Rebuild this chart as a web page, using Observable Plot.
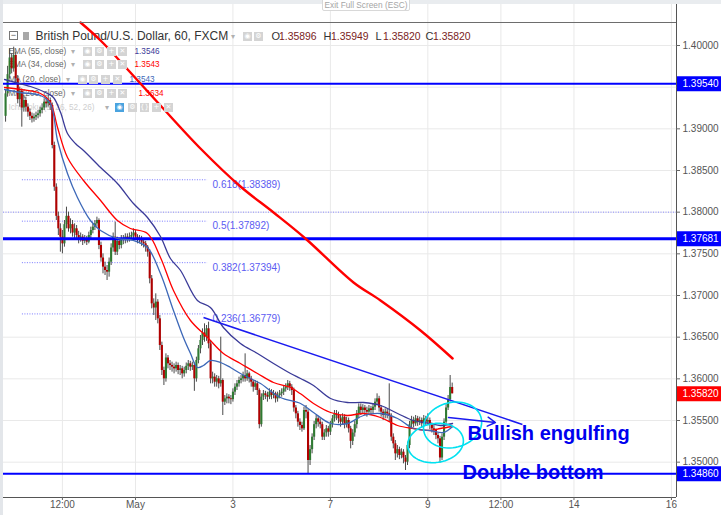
<!DOCTYPE html>
<html><head><meta charset="utf-8">
<script src="https://cdn.jsdelivr.net/npm/d3@7"></script>
<script src="https://cdn.jsdelivr.net/npm/@observablehq/plot@0.6"></script>
<style>
body{margin:0;background:#fff;}
#wrap{position:relative;width:721px;height:515px;overflow:hidden;font-family:"Liberation Sans",Arial,sans-serif;}
.ov{position:absolute;}
.ico{position:absolute;width:9px;height:9px;background:#d4d4d4;color:#fff;font-size:7px;line-height:9px;text-align:center;font-family:"DejaVu Sans",sans-serif;}
.dd{position:absolute;color:#b0b0b0;font-size:8px;line-height:9px;}
</style></head><body><div id="wrap"></div>
<script>
// ---------------- DATA ----------------
// hourly candles (trading hours, 0 = 1 May 00:00)
const firstT = -64;
const firstOpen = 1.3915;
const closes = [
1.3942,1.3965,1.3985,1.3972,1.3988,1.3960,1.3935,1.3945,1.3925,1.3934,
1.3926,1.3920,1.3915,1.3912,1.3914,1.3916,1.3918,1.3922,1.3925,1.3932,
1.3930,1.3934,1.3928,1.3880,1.3830,1.3795,1.3780,1.3770,1.3762,1.3785,
1.3795,1.3780,1.3785,1.3775,1.3780,1.3772,1.3768,1.3770,1.3765,1.3768,
1.3764,1.3772,1.3778,1.3782,1.3786,1.3790,1.3760,1.3745,1.3734,1.3730,
1.3728,1.3740,1.3757,1.3770,1.3752,1.3765,1.3760,1.3768,1.3766,1.3770,
1.3768,1.3770,1.3772,1.3775,1.3770,1.3766,1.3768,1.3764,1.3762,1.3758,
1.3752,1.3720,1.3690,1.3685,1.3692,1.3672,1.3640,1.3610,1.3600,1.3625,
1.3618,1.3616,1.3614,1.3612,1.3616,1.3610,1.3612,1.3606,1.3610,1.3615,
1.3618,1.3614,1.3616,1.3600,1.3622,1.3636,1.3646,1.3655,1.3650,1.3660,
1.3642,1.3600,1.3602,1.3596,1.3600,1.3594,1.3598,1.3572,1.3576,1.3578,
1.3576,1.3575,1.3584,1.3590,1.3594,1.3598,1.3600,1.3604,1.3600,1.3606,
1.3600,1.3596,1.3590,1.3594,1.3586,1.3545,1.3578,1.3582,1.3580,1.3578,
1.3584,1.3580,1.3582,1.3576,1.3580,1.3582,1.3584,1.3588,1.3590,1.3594,
1.3590,1.3586,1.3565,1.3558,1.3548,1.3544,1.3540,1.3562,1.3560,1.3502,
1.3515,1.3530,1.3545,1.3552,1.3548,1.3545,1.3530,1.3535,1.3540,1.3536,
1.3545,1.3552,1.3558,1.3556,1.3552,1.3548,1.3554,1.3545,1.3550,1.3540,
1.3525,1.3535,1.3545,1.3558,1.3566,1.3562,1.3565,1.3562,1.3560,1.3564,
1.3562,1.3566,1.3572,1.3576,1.3565,1.3560,1.3556,1.3560,1.3558,1.3555,
1.3530,1.3522,1.3510,1.3515,1.3508,1.3512,1.3505,1.3500,1.3520,1.3545,
1.3550,1.3546,1.3552,1.3548,1.3550,1.3546,1.3552,1.3548,1.3550,1.3544,
1.3540,1.3538,1.3532,1.3528,1.3505,1.3530,1.3548,1.3565,1.3575,1.35896,
1.35820];
const highs = [
1.3946,1.3975,1.3996,1.3990,1.3998,1.3992,1.3964,1.3950,1.3948,1.3940,
1.3938,1.3930,1.3924,1.3919,1.3918,1.3920,1.3922,1.3926,1.3930,1.3936,
1.3938,1.3940,1.3937,1.3931,1.3884,1.3834,1.3800,1.3786,1.3778,1.3790,
1.3806,1.3800,1.3792,1.3790,1.3786,1.3784,1.3777,1.3775,1.3773,1.3772,
1.3771,1.3776,1.3782,1.3786,1.3790,1.3794,1.3792,1.3764,1.3750,1.3740,
1.3736,1.3745,1.3762,1.3775,1.3788,1.3770,1.3768,1.3772,1.3772,1.3774,
1.3774,1.3775,1.3776,1.3780,1.3778,1.3773,1.3772,1.3771,1.3768,1.3765,
1.3760,1.3755,1.3724,1.3696,1.3702,1.3695,1.3676,1.3644,1.3614,1.3630,
1.3628,1.3622,1.3620,1.3618,1.3620,1.3619,1.3616,1.3615,1.3614,1.3619,
1.3622,1.3621,1.3620,1.3619,1.3626,1.3640,1.3652,1.3660,1.3666,1.3664,
1.3668,1.3646,1.3608,1.3606,1.3604,1.3603,1.3650,1.3600,1.3580,1.3582,
1.3581,1.3580,1.3588,1.3594,1.3598,1.3602,1.3604,1.3608,1.3630,1.3610,
1.3608,1.3603,1.3598,1.3598,1.3597,1.3588,1.3582,1.3586,1.3585,1.3584,
1.3588,1.3587,1.3586,1.3584,1.3584,1.3586,1.3588,1.3592,1.3594,1.3598,
1.3597,1.3593,1.3589,1.3568,1.3561,1.3552,1.3548,1.3566,1.3568,1.3563,
1.3520,1.3534,1.3549,1.3556,1.3555,1.3552,1.3548,1.3539,1.3544,1.3543,
1.3549,1.3556,1.3562,1.3562,1.3560,1.3556,1.3558,1.3557,1.3554,1.3553,
1.3543,1.3539,1.3549,1.3562,1.3570,1.3570,1.3569,1.3568,1.3566,1.3568,
1.3567,1.3570,1.3576,1.3582,1.3579,1.3568,1.3563,1.3564,1.3564,1.3594,
1.3558,1.3534,1.3526,1.3520,1.3518,1.3516,1.3515,1.3508,1.3524,1.3549,
1.3555,1.3554,1.3556,1.3555,1.3554,1.3553,1.3556,1.3555,1.3558,1.3553,
1.3547,1.3544,1.3540,1.3535,1.3531,1.3534,1.3552,1.3569,1.3580,1.3604,
1.35949];
const lows = [
1.3908,1.3938,1.3960,1.3966,1.3968,1.3955,1.3930,1.3926,1.3902,1.3920,
1.3920,1.3914,1.3910,1.3907,1.3908,1.3910,1.3912,1.3914,1.3918,1.3922,
1.3925,1.3926,1.3922,1.3876,1.3825,1.3790,1.3772,1.3752,1.3750,1.3758,
1.3780,1.3776,1.3774,1.3770,1.3768,1.3766,1.3762,1.3764,1.3760,1.3762,
1.3760,1.3762,1.3768,1.3774,1.3778,1.3782,1.3755,1.3740,1.3726,1.3724,
1.3718,1.3722,1.3736,1.3752,1.3748,1.3748,1.3755,1.3756,1.3761,1.3762,
1.3763,1.3764,1.3766,1.3768,1.3766,1.3762,1.3762,1.3759,1.3757,1.3752,
1.3746,1.3714,1.3684,1.3676,1.3670,1.3666,1.3634,1.3604,1.3592,1.3596,
1.3612,1.3610,1.3608,1.3606,1.3608,1.3605,1.3604,1.3600,1.3602,1.3606,
1.3610,1.3609,1.3610,1.3585,1.3596,1.3618,1.3630,1.3640,1.3644,1.3645,
1.3636,1.3594,1.3594,1.3590,1.3590,1.3588,1.3590,1.3556,1.3568,1.3570,
1.3570,1.3569,1.3572,1.3580,1.3586,1.3590,1.3594,1.3596,1.3596,1.3597,
1.3595,1.3590,1.3584,1.3586,1.3580,1.3540,1.3542,1.3574,1.3575,1.3572,
1.3575,1.3575,1.3576,1.3571,1.3572,1.3576,1.3578,1.3580,1.3584,1.3586,
1.3585,1.3580,1.3560,1.3552,1.3542,1.3538,1.3536,1.3538,1.3552,1.3486,
1.3496,1.3510,1.3526,1.3540,1.3542,1.3540,1.3526,1.3526,1.3530,1.3530,
1.3532,1.3541,1.3548,1.3550,1.3546,1.3542,1.3544,1.3540,1.3541,1.3535,
1.3516,1.3520,1.3530,1.3540,1.3552,1.3556,1.3558,1.3556,1.3554,1.3556,
1.3556,1.3558,1.3562,1.3568,1.3560,1.3554,1.3550,1.3552,1.3552,1.3548,
1.3525,1.3516,1.3502,1.3505,1.3503,1.3504,1.3498,1.3490,1.3496,1.3516,
1.3540,1.3541,1.3543,1.3543,1.3544,1.3541,1.3543,1.3543,1.3544,1.3539,
1.3535,1.3532,1.3527,1.3522,1.3499,1.3502,1.3526,1.3545,1.3562,1.3572,
1.35820];

// moving averages: [hour, price]
const ema55 = [[-64.5,1.39592],[-59.1,1.39556],[-51.7,1.39508],[-44.3,1.39436],[-40.4,1.39376],[-36.9,1.39196],[-33.5,1.38944],[-29.6,1.38824],[-25.6,1.3874],[-17.2,1.38536],[-8.9,1.38344],[-1.0,1.38104],[5.9,1.37936],[12.3,1.37708],[17.2,1.37444],[22.2,1.373],[30.5,1.3694],[36.9,1.36856],[43.3,1.36616],[51.7,1.36424],[60.1,1.36304],[68.0,1.36184],[76.4,1.36064],[81.3,1.36004],[87.7,1.3592],[96.1,1.35764],[104.4,1.35716],[112.3,1.35716],[120.7,1.3568],[129.1,1.35584],[136.9,1.355],[145.3,1.35464],[150.2,1.3544],[156.2,1.35464]];
const ema34 = [[-64.5,1.39496],[-56.7,1.39472],[-46.8,1.39424],[-41.9,1.39316],[-38.4,1.39016],[-33.5,1.38656],[-25.6,1.3838],[-17.2,1.3814],[-8.9,1.379],[-2.5,1.37804],[5.9,1.37744],[12.3,1.37456],[18.7,1.3706],[27.1,1.367],[35.5,1.36496],[43.3,1.36304],[51.7,1.36184],[60.1,1.36064],[68.0,1.35956],[76.4,1.35896],[81.3,1.3582],[87.7,1.35704],[96.1,1.35596],[104.4,1.3556],[112.3,1.35584],[120.7,1.35536],[129.1,1.3544],[136.9,1.35404],[145.3,1.3538],[150.2,1.35404],[156.2,1.35428]];
const ma20 = [[-64.5,1.39472],[-56.7,1.39436],[-46.8,1.394],[-41.9,1.39304],[-38.4,1.3886],[-33.5,1.38464],[-28.6,1.38176],[-22.2,1.379],[-17.2,1.3778],[-8.9,1.37684],[-1.0,1.3766],[5.9,1.37576],[12.3,1.37264],[18.7,1.3682],[23.6,1.36496],[27.1,1.36304],[30.5,1.36136],[33.5,1.3616],[36.9,1.3622],[41.9,1.36196],[46.8,1.36136],[51.7,1.36064],[56.7,1.36004],[61.6,1.35944],[71.4,1.35776],[81.3,1.35704],[87.7,1.35596],[96.1,1.35464],[104.4,1.35464],[112.3,1.3556],[120.7,1.35584],[129.1,1.35524],[136.9,1.35404],[145.3,1.3538],[151.7,1.35356],[156.2,1.35428]];
const ma200 = [[-27.1,1.40276],[-17.2,1.4006],[-2.5,1.39676],[12.3,1.3928],[32.0,1.38764],[51.7,1.38308],[68.0,1.37996],[83.7,1.37684],[107.4,1.37156],[120.7,1.3694],[140.4,1.3658],[156.2,1.36244]];

// legend
const legendNames = ["EMA (55, close)","EMA (34, close)","MA (20, close)","MA (200, close)"];
const legendValues = ["1.3546","1.3543","1.3543","1.3634"];
const title = "British Pound/U.S. Dollar, 60, FXCM";
const ohlcLetters = ["O","H","L","C"];
const ohlcValues = ["1.35896","1.35949","1.35820","1.35820"];

// horizontal support/resistance levels, fib levels
const hLevels = [1.3954, 1.37681, 1.3486];
const fibRatios = ["0.618","0.5","0.382","0.236"];
const fibPrices = [1.38389, 1.37892, 1.37394, 1.36779];
const fibSpan = [-55.7, 35.5];
const roundLevel = 1.38;

// trendline, arrow, ellipses (hour, price)
const trend = [[33.5,1.36736],[190.6,1.35452]];
const arrowSeg = [[154.2,1.35536],[177.3,1.35476]];
const ellipseCenters = [[156.2,1.35446],[147.8,1.3523]];
const ellipseRadii = [[14.5,0.0027],[13.8,0.00234]];
const ellipseTilt = [-14,-8];
const notes = ["Bullish engulfing","Double bottom"];
const notePos = [[163.5,1.3534],[161.1,1.3488]];

// axes
const xTickT = [-36,0,48,96,144,180,216,264];
const xTickLabels = ["12:00","May","3","7","9","12:00","14","16"];
const yTicks = [1.35,1.355,1.36,1.365,1.37,1.375,1.38,1.385,1.39,1.395,1.40];

// ---------------- LAYOUT ----------------
const W = 721, H = 515, ML = 3, MR = 45, MT = 4, MB = 18;
const xDom = [-65.02, 266.5], yDom = [1.34576, 1.40492];
const kx = (W-ML-MR)/(xDom[1]-xDom[0]);
const ky = (H-MT-MB)/(yDom[1]-yDom[0]);
const FONT = '"Liberation Sans", Arial, sans-serif';
const tFar = xDom[1] + MR/kx;

const candles = closes.map((c,i)=>({t:firstT+i, o: i ? closes[i-1] : firstOpen, h: highs[i], l: lows[i], c}));
const maSeries = [
  {pts: ema55, color:"#3a3a98"},
  {pts: ema34, color:"#ff0000"},
  {pts: ma20,  color:"#3d68b8"}
];
const lineData = maSeries.flatMap((s,k)=>s.pts.map(([t,p])=>({t,p,k,color:s.color})));
const hWidths = [2,3,2];
const hData = hLevels.map((p,i)=>({p,w:hWidths[i]}));
const fibData = fibPrices.map((p,i)=>({p,label:`${fibRatios[i]}(${p.toFixed(5)})`}));

const ellPts = [];
ellipseCenters.forEach(([ct,cp],k)=>{
  const [rt,rp] = ellipseRadii[k];
  const a = ellipseTilt[k]*Math.PI/180;
  const rx = rt*kx, ry = rp*ky;
  for (let d=0; d<=360; d+=5){
    const f = d*Math.PI/180;
    const ex = rx*Math.cos(f), ey = ry*Math.sin(f);
    const X = ex*Math.cos(a) - ey*Math.sin(a);
    const Y = ex*Math.sin(a) + ey*Math.cos(a);
    ellPts.push({k, t: ct + X/kx, p: cp - Y/ky});
  }
});

const axisBoxes = [
  {p:hLevels[0], fill:"#0000ff"},
  {p:hLevels[1], fill:"#0000ff"},
  {p:closes[closes.length-1], fill:"#ff0000"},
  {p:hLevels[2], fill:"#0000ff"}
];
// tick labels hidden under a price box are not drawn (as in the reference)
const yTickLabels = yTicks.filter(v => !axisBoxes.some(b => Math.abs(b.p - v)*ky < 7.5));

const chrome = (s, x, y, o={}) => Plot.text([s], {text:d=>d, frameAnchor:"top-left", dx:x-ML, dy:y-MT, textAnchor:"start", lineAnchor:"middle", fontFamily:FONT, ...o});

const legendColors = ["#3a3a98","#ff0000","#3d68b8","#ff0000"];
const legendY = [51,64,79,93];
const legendVX = [134,134,129,138];
const legendMarks = [];
legendNames.forEach((n,i)=>{
  legendMarks.push(chrome(n, 8, legendY[i], {fill:"#666", fontSize:8.2}));
  legendMarks.push(chrome(legendValues[i], legendVX[i], legendY[i], {fill:legendColors[i], fontSize:8.2}));
});
legendMarks.push(chrome("Ichimoku (9, 26, 52, 26)", 8, 107, {fill:"#cfcfcf", fontSize:8.2}));

const ohlcX = [271,323,375,425];
const headerMarks = [chrome(title, 35, 36, {fill:"#333", fontSize:12})];
ohlcLetters.forEach((l,i)=>{
  headerMarks.push(chrome(l, ohlcX[i], 36, {fill:"#333", fontSize:11}));
  headerMarks.push(chrome(ohlcValues[i], ohlcX[i]+7.5, 36, {fill:"#7a1c1c", fontSize:10.4}));
});

const chart = Plot.plot({
  width:W, height:H, marginLeft:ML, marginRight:MR, marginTop:MT, marginBottom:MB,
  x:{type:"linear", domain:xDom, axis:null},
  y:{type:"linear", domain:yDom, axis:null},
  style:{fontFamily:FONT, fontSize:"10px", background:"white", color:"#555", overflow:"visible"},
  marks:[
    Plot.ruleY(yTicks, {stroke:"#e9e9e9"}),
    Plot.ruleX(xTickT, {stroke:"#e9e9e9"}),
    Plot.ruleY(fibData, {y:"p", x1:fibSpan[0], x2:fibSpan[1], stroke:"#7878ff", strokeDasharray:"1,1.5"}),
    Plot.ruleY([roundLevel], {stroke:"#8a8aff", strokeDasharray:"1,1.5"}),
    Plot.text(fibData, {x:fibSpan[1], y:"p", dx:5, dy:5, text:"label", textAnchor:"start", fill:"#5b5bf2", fontSize:10, fontFamily:FONT}),
    ...legendMarks,
    ...headerMarks,
    Plot.ruleX(candles, {x:"t", y1:"l", y2:"h", stroke:"#4a4a4a", strokeWidth:1}),
    Plot.ruleX(candles, {x:"t", y1:"o", y2:"c", stroke:d=>d.c>=d.o?"#2f7a32":"#b00000", strokeWidth:2.1}),
    Plot.ruleY(hData, {y:"p", stroke:"#0000ff", strokeWidth:"w"}),
    Plot.line(lineData, {x:"t", y:"p", z:"k", stroke:"color", strokeWidth:1.3, curve:"catmull-rom"}),
    Plot.line(ma200, {x:d=>d[0], y:d=>d[1], stroke:"#ff0000", strokeWidth:2.4, curve:"catmull-rom"}),
    Plot.link([trend], {x1:d=>d[0][0], y1:d=>d[0][1], x2:d=>d[1][0], y2:d=>d[1][1], stroke:"#1a1af0", strokeWidth:1.5}),
    Plot.line(ellPts, {x:"t", y:"p", z:"k", stroke:"#00e1f0", strokeWidth:1.6, curve:"linear"}),
    Plot.arrow([arrowSeg], {x1:d=>d[0][0], y1:d=>d[0][1], x2:d=>d[1][0], y2:d=>d[1][1], stroke:"#1a1af0", strokeWidth:1.5, headLength:9, bend:0}),
    Plot.text(notes, {x:(d,i)=>notePos[i][0], y:(d,i)=>notePos[i][1], text:d=>d, textAnchor:"start", fill:"#0000ee", fontSize:20, fontWeight:"bold", fontFamily:FONT}),
    // frame edges
    Plot.ruleY([yDom[0]], {stroke:"#555"}),
    Plot.ruleX([xDom[1]], {stroke:"#555"}),
    // right axis
    Plot.ruleY(yTicks, {x1:xDom[1], x2:xDom[1]+4/kx, stroke:"#666"}),
    Plot.text(yTickLabels, {x:xDom[1], y:d=>d, dx:6, text:d=>d.toFixed(5), textAnchor:"start", fill:"#555", fontSize:10}),
    Plot.ruleY(axisBoxes, {y:"p", x1:xDom[1]+1/kx, x2:tFar, stroke:"fill", strokeWidth:15}),
    Plot.text(axisBoxes, {y:"p", x:xDom[1], dx:6, text:d=>d.p.toFixed(5), textAnchor:"start", fill:"white", fontSize:10}),
    // bottom axis
    Plot.ruleX(xTickT, {y1:yDom[0], y2:yDom[0]-3/ky, stroke:"#666"}),
    Plot.text(xTickT, {x:d=>d, frameAnchor:"bottom", dy:10, text:(d,i)=>xTickLabels[i], fill:"#555", fontSize:10, fontWeight:(d,i)=>xTickLabels[i]==="May"?"bold":"normal"})
  ]
});
const wrap = document.getElementById("wrap");
chart.style.position = "absolute"; chart.style.left = "0"; chart.style.top = "0";
wrap.appendChild(chart);

// ---------- UI chrome overlays ----------
function div(css, text){const d=document.createElement("div"); d.className="ov"; d.style.cssText=css; if(text) d.textContent=text; wrap.appendChild(d); return d;}
div("left:0;top:0;width:721px;height:4px;background:#e9ecef;");
div("left:0;top:0;width:3px;height:515px;background:#e3e6ea;");
div("left:3px;top:22px;width:673px;height:1px;background:#6d6d6d;");
div("left:322px;top:-3px;width:86px;height:12px;background:#fff;border:1px solid #d8d8d8;border-radius:2px;color:#a5a5a5;font-size:8.3px;line-height:14px;text-align:center;", "Exit Full Screen (ESC)");
div("left:677px;top:498px;width:44px;height:17px;background:#fff;");
// header icons
div("left:9px;top:31px;width:7px;height:7px;border:1px solid #777;color:#555;font-size:9px;line-height:6px;text-align:center;", "−");
div("left:23px;top:32px;width:6px;height:8px;background:#a8a8a8;");
function ico(x,y,g,bg){const d=document.createElement("div"); d.className="ico"; d.style.left=x+"px"; d.style.top=(y-4.5)+"px"; if(bg) d.style.background=bg; d.textContent=g; wrap.appendChild(d);}
function dd(x,y){const d=document.createElement("div"); d.className="dd"; d.style.left=x+"px"; d.style.top=(y-4.5)+"px"; d.textContent="▾"; wrap.appendChild(d);}
dd(231,36); ico(243,36,"◉"); ico(254,36,"⚙");
const iconXs = [[83,95,107,118],[83,95,107,118],[78,89,101,113],[83,95,107,118]];
const ddX = [71,71,66,71];
legendY.forEach((y,i)=>{ dd(ddX[i],y); ["◉","⚙","+","✕"].forEach((g,j)=>ico(iconXs[i][j],y,g)); });
dd(105,107); ico(115,107,"◉","#4aa3df"); ico(128,107,"⚙"); ico(140,107,"{}"); ico(152,107,"+"); ico(164,107,"✕");
</script></body></html>
